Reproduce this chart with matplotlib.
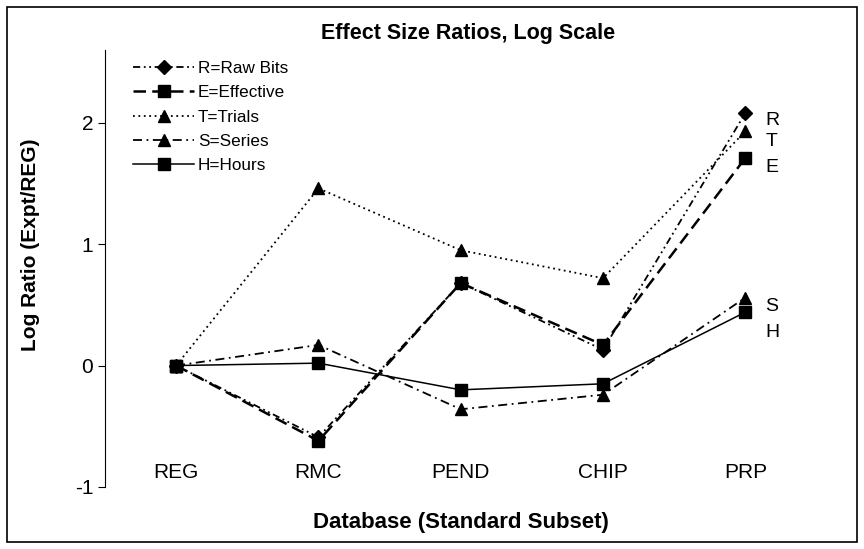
"""Effect size ratios on a log scale, per database."""

import matplotlib

matplotlib.use("Agg")

import matplotlib.pyplot as plt
from matplotlib.patches import Rectangle

categories = ["REG", "RMC", "PEND", "CHIP", "PRP"]
raw_bits = [0.0, -0.59, 0.68, 0.13, 2.08]
effective = [0.0, -0.62, 0.68, 0.17, 1.71]
trials = [0.0, 1.46, 0.95, 0.72, 1.93]
series = [0.0, 0.17, -0.36, -0.24, 0.56]
hours = [0.0, 0.02, -0.20, -0.15, 0.44]

end_labels = ["R", "T", "E", "S", "H"]
end_label_y = [2.02, 1.85, 1.63, 0.49, 0.27]


def main() -> None:
    plt.rcParams.update({
        "font.family": ["Liberation Sans", "DejaVu Sans"],
        "font.size": 14,
        "axes.unicode_minus": False,
    })
    fig = plt.figure(figsize=(8.64, 5.49), dpi=100)
    ax = fig.add_axes([0.1215, 0.113, 0.84, 0.796])
    x = list(range(len(categories)))

    ax.plot(x, raw_bits, color="black", lw=1.3, ls=(0, (4, 2, 1, 2, 1, 2)),
            marker="D", ms=7, label="R=Raw Bits")
    ax.plot(x, effective, color="black", lw=1.8, ls=(0, (5, 2.5)),
            marker="s", ms=9, label="E=Effective")
    ax.plot(x, trials, color="black", lw=1.3, ls=(0, (1, 2)),
            marker="^", ms=9, label="T=Trials")
    ax.plot(x, series, color="black", lw=1.3, ls=(0, (5, 2.5, 1, 2.5)),
            marker="^", ms=9, label="S=Series")
    ax.plot(x, hours, color="black", lw=1.1, ls="-",
            marker="s", ms=9, label="H=Hours")

    for i, name in enumerate(categories):
        ax.text(i, -0.88, name, ha="center", va="center", fontsize=15)
    for label, y in zip(end_labels, end_label_y):
        ax.text(4.14, y, label, ha="left", va="center", fontsize=14)

    ax.set_xlim(-0.5, 4.6)
    ax.set_ylim(-1, 2.6)
    ax.set_yticks([-1, 0, 1, 2])
    ax.set_xticks([])
    for side in ("top", "right", "bottom"):
        ax.spines[side].set_visible(False)
    ax.tick_params(axis="y", direction="out", length=5, labelsize=15)

    ax.set_title("Effect Size Ratios, Log Scale", fontweight="bold", fontsize=15.5, pad=8)
    ax.set_ylabel("Log Ratio (Expt/REG)", fontweight="bold", fontsize=15)
    ax.yaxis.set_label_coords(-0.09, 0.554)
    fig.text(0.534, 0.049, "Database (Standard Subset)", ha="center", va="center",
             fontweight="bold", fontsize=16)

    ax.legend(loc="upper left", bbox_to_anchor=(0.0386, 0.975), frameon=False,
              borderaxespad=0, borderpad=0, handlelength=3.6, handletextpad=0.2,
              labelspacing=0.55, fontsize=12.3)

    fig.patches.append(Rectangle((0.008, 0.012), 0.984, 0.976, transform=fig.transFigure,
                                 fill=False, edgecolor="black", lw=1.2))
    fig.savefig("out.png", dpi=100)
    plt.close(fig)


if __name__ == "__main__":
    main()
